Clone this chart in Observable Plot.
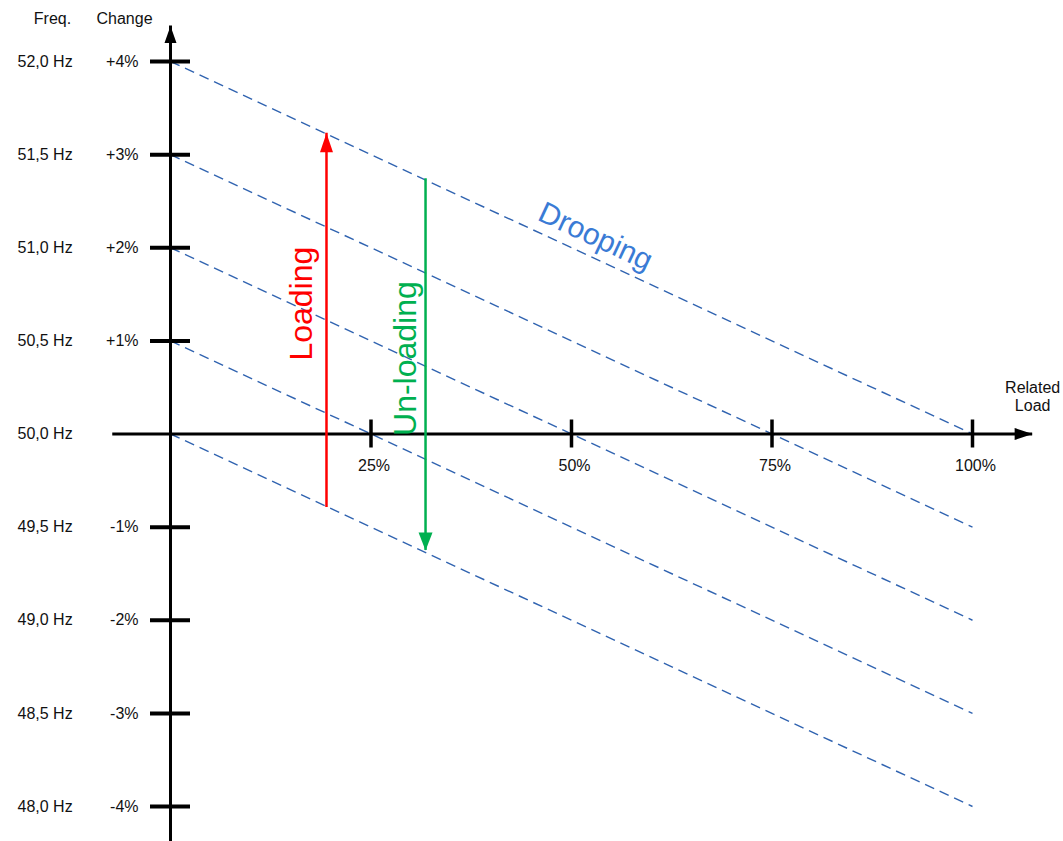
<!DOCTYPE html>
<html>
<head>
<meta charset="utf-8">
<script src="https://cdn.jsdelivr.net/npm/d3@7"></script>
<script src="https://cdn.jsdelivr.net/npm/@observablehq/plot@0.6"></script>
<style>
  html, body { margin: 0; padding: 0; background: white; overflow: hidden; }
</style>
</head>
<body>
<div id="chart"></div>
<script>
// ---- Data ----
// Frequency labels (left column) and their % change positions
const freqValues = [4, 3, 2, 1, 0, -1, -2, -3, -4];
const freqLabels = ["52,0 Hz", "51,5 Hz", "51,0 Hz", "50,5 Hz", "50,0 Hz", "49,5 Hz", "49,0 Hz", "48,5 Hz", "48,0 Hz"];
// Change ticks on the vertical axis
const changeTicks = [4, 3, 2, 1, -1, -2, -3, -4];
const changeLabels = ["+4%", "+3%", "+2%", "+1%", "-1%", "-2%", "-3%", "-4%"];
// Related load ticks on the horizontal axis
const loadTicks = [25, 50, 75, 100];
const loadLabels = ["25%", "50%", "75%", "100%"];
// Drooping lines: change at 0 % load and at 100 % load
const droopAtZero = [4, 3, 2, 1, 0];
const droopAtFull = [0, -1, -2, -3, -4];
// Loading / un-loading arrows (load %, from change, to change)
const loadingArrow = [{load: 19.45, from: -0.79, to: 3.23}];
const unloadingArrow = [{load: 31.8, from: 2.74, to: -1.25}];
// Axis extents (in data units)
const yAxisTop = 4.38, yAxisBottom = -4.4;
const xAxisStart = -7.2, xAxisEnd = 107.5;
// Annotation positions (data units)
const annotations = [
  {text: "Loading", load: 16.4, change: 1.40, rotate: -90, color: "#ff0000", size: 32},
  {text: "Un-loading", load: 29.3, change: 0.81, rotate: -90, color: "#00b050", size: 32},
  {text: "Drooping", load: 53.0, change: 2.12, rotate: 25, color: "#3a7bd5", size: 30}
];

// ---- Helpers ----
function head(dir, len, half) {
  return {
    draw(ctx) {
      if (dir === "up") { ctx.moveTo(0, 0); ctx.lineTo(-half, len); ctx.lineTo(half, len); }
      else if (dir === "down") { ctx.moveTo(0, 0); ctx.lineTo(-half, -len); ctx.lineTo(half, -len); }
      else { ctx.moveTo(0, 0); ctx.lineTo(-len, -half); ctx.lineTo(-len, half); }
      ctx.closePath();
    }
  };
}

const droopLines = droopAtZero.map((s, i) => ({start: s, end: droopAtFull[i]}));
const freqRows = freqValues.map((v, i) => ({v, label: freqLabels[i]}));
const changeRows = changeTicks.map((v, i) => ({v, label: changeLabels[i]}));
const loadRows = loadTicks.map((v, i) => ({v, label: loadLabels[i]}));

const font = "'Liberation Sans', Arial, Helvetica, sans-serif";
const labelSize = 16;
const labelColor = "#111";

const chart = Plot.plot({
  width: 1063,
  height: 841,
  margin: 0,
  x: {domain: [0, 100], range: [170, 972], axis: null},
  y: {domain: [-4, 4], range: [806, 61], axis: null},
  style: {fontFamily: font, fontSize: "16px", background: "white", color: "black"},
  marks: [
    // drooping dashed lines
    Plot.link(droopLines, {
      x1: () => 0, x2: () => 100, y1: "start", y2: "end",
      stroke: "#3063b0", strokeWidth: 1.4, strokeDasharray: "10,6"
    }),
    // vertical axis
    Plot.ruleX([0], {x: d => d, y1: () => yAxisBottom, y2: () => yAxisTop, stroke: "black", strokeWidth: 3}),
    Plot.dot([0], {x: d => d, y: () => yAxisTop, symbol: head("up", 17, 6), fill: "black", stroke: "none"}),
    // horizontal axis
    Plot.ruleY([0], {y: d => d, x1: () => xAxisStart, x2: () => xAxisEnd, stroke: "black", strokeWidth: 3}),
    Plot.dot([0], {y: d => d, x: () => xAxisEnd, symbol: head("right", 18, 6), fill: "black", stroke: "none"}),
    // y ticks
    Plot.ruleY(changeRows, {y: "v", x1: () => 0, x2: () => 0, insetLeft: -20, insetRight: -20, stroke: "black", strokeWidth: 4}),
    // x ticks
    Plot.ruleX(loadRows, {x: "v", y1: () => 0, y2: () => 0, insetTop: -14, insetBottom: -14, stroke: "black", strokeWidth: 3.5}),
    // loading arrow (red, upward)
    Plot.ruleX(loadingArrow, {x: "load", y1: "from", y2: "to", stroke: "#ff0000", strokeWidth: 2.5}),
    Plot.dot(loadingArrow, {x: "load", y: "to", symbol: head("up", 19, 6.5), fill: "#ff0000", stroke: "none"}),
    // un-loading arrow (green, downward)
    Plot.ruleX(unloadingArrow, {x: "load", y1: "from", y2: "to", stroke: "#00b050", strokeWidth: 2.5}),
    Plot.dot(unloadingArrow, {x: "load", y: "to", symbol: head("down", 18, 7), fill: "#00b050", stroke: "none"}),
    // left labels
    Plot.text(freqRows, {y: "v", text: "label", frameAnchor: "left", textAnchor: "start", dx: 17, fontSize: labelSize, fill: labelColor}),
    Plot.text(changeRows, {y: "v", x: () => 0, text: "label", textAnchor: "end", dx: -32, fontSize: labelSize, fill: labelColor}),
    Plot.text(["Freq."], {frameAnchor: "top-left", lineAnchor: "middle", textAnchor: "middle", dx: 52, dy: 18, fontSize: labelSize, fill: labelColor}),
    Plot.text(["Change"], {frameAnchor: "top-left", lineAnchor: "middle", textAnchor: "middle", dx: 124, dy: 18, fontSize: labelSize, fill: labelColor}),
    // x tick labels
    Plot.text(loadRows, {x: "v", y: () => 0, text: "label", dy: 32, dx: 3, fontSize: labelSize, fill: labelColor}),
    Plot.text(["Related\nLoad"], {x: () => xAxisEnd, y: () => 0, dy: -38, lineHeight: 1.15, textAnchor: "middle", fontSize: labelSize, fill: labelColor}),
    // annotations
    ...annotations.map(a => Plot.text([a], {
      x: "load", y: "change", text: "text", rotate: a.rotate,
      fill: a.color, fontSize: a.size, textAnchor: "middle", lineAnchor: "middle"
    }))
  ]
});

document.getElementById("chart").appendChild(chart);
</script>
</body>
</html>
